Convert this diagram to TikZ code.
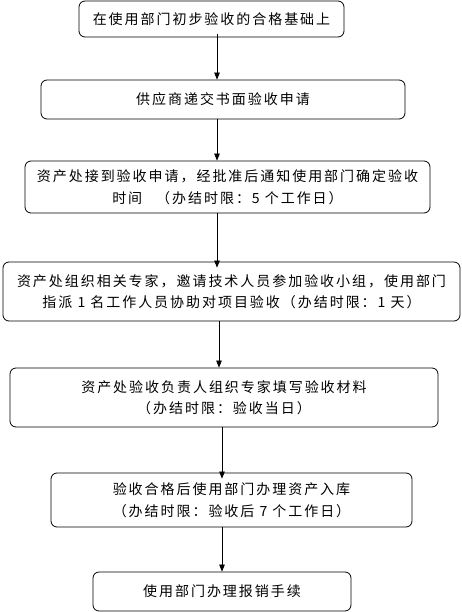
\documentclass[tikz,border=0pt]{standalone}
\usepackage{fontspec}
\setmainfont{Noto Sans CJK SC}[LetterSpace=14]
\usetikzlibrary{arrows.meta}

\begin{document}
\begin{tikzpicture}[
  x=1pt, y=-1pt,
  box/.style={draw, line width=0.8pt, rounded corners=6pt, align=center,
    inner sep=0pt, font=\fontsize{14}{21.5}\selectfont},
  arr/.style={-{Triangle[length=7pt,width=5.5pt]}, line width=0.7pt}
]
\useasboundingbox (0,0) rectangle (461,612);

\node[box, minimum width=265pt, minimum height=36pt] (b1) at (211.5,19) {在使用部门初步验收的合格基础上};
\node[box, minimum width=364pt, minimum height=39pt] (b2) at (223,99.5) {供应商递交书面验收申请};
\node[box, minimum width=405pt, minimum height=52pt] (b3) at (227.5,187) {资产处接到验收申请，经批准后通知使用部门确定验收\\时间\quad（办结时限：5 个工作日）};
\node[box, minimum width=457pt, minimum height=59pt] (b4) at (231.5,291.5) {资产处组织相关专家，邀请技术人员参加验收小组，使用部门\\指派 1 名工作人员协助对项目验收（办结时限：1 天）};
\node[box, minimum width=428pt, minimum height=59pt] (b5) at (224,397.5) {资产处验收负责人组织专家填写验收材料\\（办结时限：验收当日）};
\node[box, minimum width=361pt, minimum height=54pt] (b6) at (231.5,500) {验收合格后使用部门办理资产入库\\（办结时限：验收后 7 个工作日）};
\node[box, minimum width=258pt, minimum height=39pt] (b7) at (222,591.5) {使用部门办理报销手续};

% arrow columns
\coordinate (c1) at (217,0);
\coordinate (c2) at (217,0);
\coordinate (c3) at (217,0);
\coordinate (c4) at (219,0);
\coordinate (c5) at (222,0);
\coordinate (c6) at (222,0);

\draw[arr] ([yshift=3pt]b1.south -| c1) -- (b2.north -| c1);
\draw[arr] (b2.south -| c2) -- (b3.north -| c2);
\draw[arr] (b3.south -| c3) -- ([yshift=-6pt]b4.north -| c3);
\draw[arr] (b4.south -| c4) -- (b5.north -| c4);
\draw[arr] (b5.south -| c5) -- ([yshift=-6pt]b6.north -| c5);
\draw[arr] (b6.south -| c6) -- (b7.north -| c6);
\end{tikzpicture}
\end{document}
